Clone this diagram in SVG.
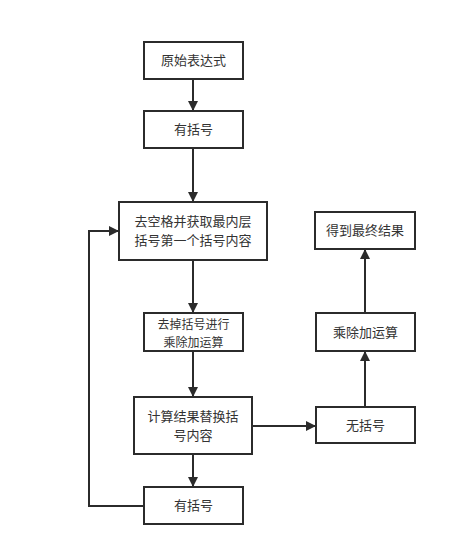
<svg xmlns="http://www.w3.org/2000/svg" width="463" height="543" viewBox="0 0 463 543">
<style>
.box{fill:#fff;stroke:#2b2b2b;stroke-width:2}
.t{font-family:"Noto Sans CJK SC","Liberation Sans",sans-serif;font-size:13px;fill:#333;text-anchor:middle}
.s{font-size:12px}
.c{fill:none;stroke:#2b2b2b;stroke-width:2}
</style>
<defs>
<marker id="ah" markerWidth="10" markerHeight="10" refX="9" refY="5" orient="auto" markerUnits="userSpaceOnUse" viewBox="0 0 10 10">
<path d="M0,0 L10,5 L0,10 Z" fill="#2b2b2b"/>
</marker>
</defs>
<rect width="463" height="543" fill="#fff"/>
<g id="connectors">
<path class="c" d="M193,80 V110" marker-end="url(#ah)"/>
<path class="c" d="M193,149 V201" marker-end="url(#ah)"/>
<path class="c" d="M193,261 V312" marker-end="url(#ah)"/>
<path class="c" d="M193,352 V396" marker-end="url(#ah)"/>
<path class="c" d="M193,455 V486" marker-end="url(#ah)"/>
<path class="c" d="M144,506 H89 V231 H118" marker-end="url(#ah)"/>
<path class="c" d="M252,426 H315" marker-end="url(#ah)"/>
<path class="c" d="M365,407 V352" marker-end="url(#ah)"/>
<path class="c" d="M365,313 V250" marker-end="url(#ah)"/>
</g>
<g id="n1"><rect class="box" x="144" y="42" width="99" height="37"/><text class="t" x="193.5" y="65">原始表达式</text></g>
<g id="n2"><rect class="box" x="144" y="111" width="99" height="37"/><text class="t" x="193.5" y="134">有括号</text></g>
<g id="n3"><rect class="box" x="119" y="202" width="148" height="58"/><text class="t" x="193" y="226">去空格并获取最内层</text><text class="t" x="193" y="245">括号第一个括号内容</text></g>
<g id="n4"><rect class="box" x="144" y="313" width="99" height="38"/><text class="t s" x="193.5" y="329">去掉括号进行</text><text class="t s" x="193.5" y="346.5">乘除加运算</text></g>
<g id="n5"><rect class="box" x="134" y="397" width="118" height="57"/><text class="t" x="193" y="421">计算结果替换括</text><text class="t" x="193" y="440">号内容</text></g>
<g id="n6"><rect class="box" x="144" y="487" width="99" height="37"/><text class="t" x="193.5" y="510">有括号</text></g>
<g id="n7"><rect class="box" x="316" y="407" width="99" height="36"/><text class="t" x="365.5" y="430">无括号</text></g>
<g id="n8"><rect class="box" x="316" y="313" width="99" height="38"/><text class="t" x="365.5" y="337">乘除加运算</text></g>
<g id="n9"><rect class="box" x="315" y="212" width="100" height="37"/><text class="t" x="365" y="235">得到最终结果</text></g>
</svg>
